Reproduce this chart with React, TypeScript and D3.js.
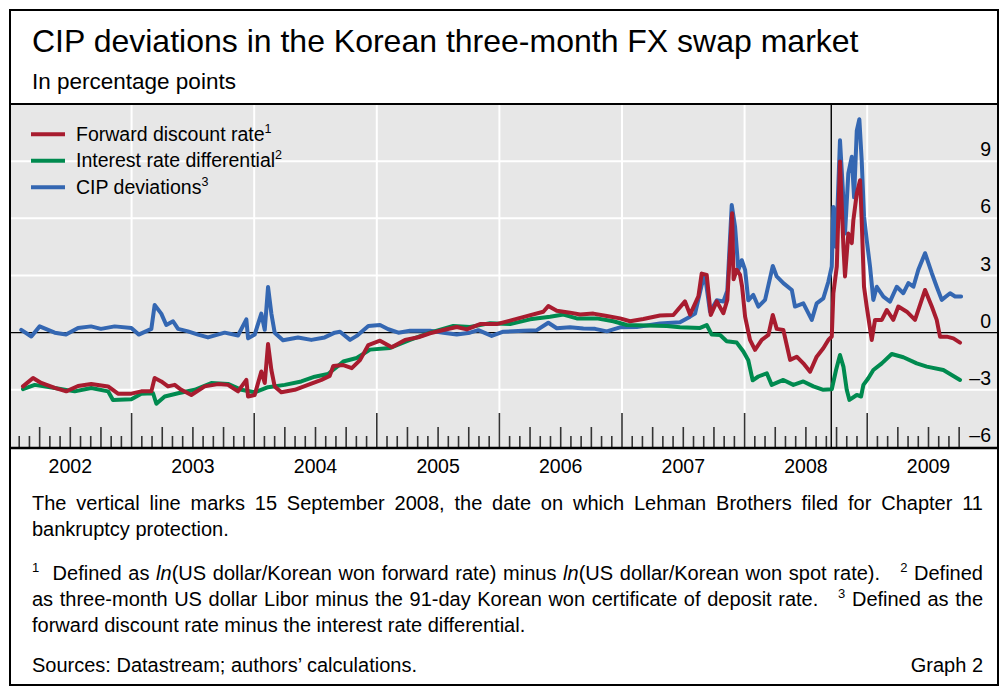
import React, { useLayoutEffect, useRef } from "react";
import * as d3 from "d3";

// ---- Data (decimal year, percentage points) ----
const forwardDiscount: [number, number][] = [
  [2002.114,-2.82],[2002.196,-2.38],[2002.263,-2.64],[2002.373,-2.9],[2002.467,-3.08],[2002.563,-2.8],[2002.671,-2.69],[2002.808,-2.82],[2002.889,-3.2],[2002.998,-3.2],
  [2003.079,-3.08],[2003.161,-3.08],[2003.188,-2.38],[2003.242,-2.56],[2003.297,-2.82],[2003.352,-2.74],[2003.405,-3.0],[2003.487,-3.27],[2003.596,-2.82],[2003.705,-2.7],
  [2003.786,-2.74],[2003.868,-3.08],[2003.936,-2.48],[2003.950,-3.35],[2004.004,-3.27],[2004.058,-2.04],[2004.086,-2.64],[2004.113,-0.59],[2004.140,-1.96],[2004.167,-2.82],
  [2004.221,-3.13],[2004.331,-3.0],[2004.439,-2.74],[2004.548,-2.48],[2004.616,-2.27],[2004.645,-1.75],[2004.727,-1.7],[2004.796,-1.86],[2004.863,-1.44],[2004.931,-0.65],
  [2005.026,-0.42],[2005.122,-0.77],[2005.230,-0.38],[2005.339,-0.24],[2005.434,-0.03],[2005.543,0.14],[2005.652,0.3],[2005.734,0.17],[2005.842,0.45],[2005.978,0.45],
  [2006.087,0.63],[2006.223,0.87],[2006.358,1.1],[2006.399,1.4],[2006.468,1.15],[2006.576,1.05],[2006.658,0.95],[2006.766,1.0],[2006.876,0.87],[2006.984,0.75],
  [2007.066,0.6],[2007.174,0.72],[2007.310,0.9],[2007.419,0.93],[2007.514,1.64],[2007.555,0.95],[2007.623,1.9],[2007.650,3.1],[2007.691,3.03],[2007.724,0.93],
  [2007.773,1.64],[2007.827,1.02],[2007.859,1.72],[2007.898,6.27],[2007.910,2.8],[2007.936,3.3],[2007.963,3.03],[2007.980,2.4],[2008.004,0.84],[2008.044,-0.38],[2008.085,-0.9],
  [2008.140,-0.38],[2008.194,-0.12],[2008.230,0.93],[2008.262,0.2],[2008.316,0.14],[2008.371,-1.43],[2008.425,-1.26],[2008.479,-1.61],[2008.534,-2.05],[2008.588,-1.26],
  [2008.642,-0.82],[2008.683,-0.38],[2008.711,-0.2],[2008.724,2.07],[2008.752,3.47],[2008.778,8.98],[2008.806,4.5],[2008.819,2.95],[2008.846,5.2],[2008.874,4.7],
  [2008.887,5.9],[2008.915,7.3],[2008.942,8.0],[2008.955,5.9],[2008.974,2.41],[2008.996,1.37],[2009.037,-0.38],[2009.064,0.67],[2009.119,0.67],[2009.160,1.19],
  [2009.213,0.67],[2009.254,1.37],[2009.323,1.1],[2009.390,0.67],[2009.472,2.24],[2009.527,1.37],[2009.567,0.67],[2009.594,-0.21],[2009.649,-0.21],[2009.703,-0.3],[2009.757,-0.52],
];

const interestDifferential: [number, number][] = [
  [2002.114,-2.96],[2002.210,-2.74],[2002.373,-2.9],[2002.536,-3.08],[2002.671,-2.9],[2002.808,-3.08],[2002.848,-3.53],[2002.998,-3.49],[2003.079,-3.2],[2003.175,-3.18],
  [2003.202,-3.73],[2003.270,-3.35],[2003.379,-3.18],[2003.515,-3.0],[2003.650,-2.64],[2003.786,-2.69],[2003.895,-3.0],[2004.004,-3.13],[2004.113,-2.86],[2004.249,-2.74],
  [2004.384,-2.56],[2004.494,-2.31],[2004.602,-2.17],[2004.684,-1.75],[2004.727,-1.51],[2004.836,-1.33],[2004.945,-0.89],[2005.108,-0.8],[2005.271,-0.38],[2005.434,0.0],
  [2005.624,0.35],[2005.760,0.3],[2005.924,0.5],[2006.087,0.45],[2006.250,0.7],[2006.413,0.84],[2006.522,0.95],[2006.631,0.75],[2006.794,0.75],[2006.929,0.6],
  [2007.039,0.4],[2007.202,0.38],[2007.365,0.35],[2007.473,0.28],[2007.637,0.25],[2007.691,0.4],[2007.732,-0.1],[2007.800,-0.12],[2007.854,-0.45],[2007.936,-0.52],
  [2007.990,-0.99],[2008.030,-1.45],[2008.066,-2.5],[2008.112,-2.3],[2008.181,-2.13],[2008.221,-2.74],[2008.316,-2.48],[2008.398,-2.74],[2008.479,-2.56],[2008.561,-2.82],
  [2008.642,-3.0],[2008.711,-2.97],[2008.746,-1.96],[2008.778,-1.17],[2008.806,-1.78],[2008.833,-3.0],[2008.855,-3.53],[2008.915,-3.27],[2008.950,-3.35],[2008.969,-2.74],
  [2009.009,-2.39],[2009.050,-1.96],[2009.119,-1.61],[2009.200,-1.12],[2009.295,-1.29],[2009.404,-1.61],[2009.486,-1.78],[2009.621,-1.96],[2009.757,-2.48],
];

const cipDeviation: [number, number][] = [
  [2002.100,0.15],[2002.182,-0.2],[2002.250,0.33],[2002.373,0.0],[2002.465,-0.1],[2002.563,0.25],[2002.669,0.33],[2002.750,0.2],[2002.862,0.33],[2002.998,0.25],
  [2003.058,-0.1],[2003.161,0.2],[2003.188,1.45],[2003.242,1.0],[2003.283,0.4],[2003.338,0.6],[2003.379,0.2],[2003.460,0.07],[2003.542,-0.1],[2003.623,-0.25],
  [2003.759,0.0],[2003.868,-0.15],[2003.936,0.7],[2003.950,-0.3],[2004.004,-0.1],[2004.058,1.0],[2004.086,0.15],[2004.113,2.4],[2004.140,1.0],[2004.167,0.0],
  [2004.235,-0.4],[2004.357,-0.25],[2004.466,-0.38],[2004.575,-0.25],[2004.657,0.0],[2004.700,0.05],[2004.782,-0.38],[2004.836,-0.17],[2004.931,0.35],[2005.026,0.4],
  [2005.094,0.18],[2005.176,0.0],[2005.271,0.1],[2005.434,0.1],[2005.543,0.0],[2005.652,-0.1],[2005.760,0.0],[2005.828,0.13],[2005.937,-0.17],[2006.032,0.05],
  [2006.195,0.1],[2006.305,0.13],[2006.399,0.52],[2006.468,0.23],[2006.576,0.28],[2006.685,0.22],[2006.780,0.2],[2006.876,0.07],[2006.984,0.28],[2007.120,0.3],
  [2007.310,0.48],[2007.473,0.55],[2007.555,0.84],[2007.596,1.0],[2007.650,2.5],[2007.677,3.0],[2007.718,1.1],[2007.773,1.7],[2007.827,1.64],[2007.859,2.2],
  [2007.895,6.7],[2007.922,5.57],[2007.949,3.3],[2007.977,3.8],[2008.004,3.3],[2008.030,1.7],[2008.071,1.98],[2008.112,1.37],[2008.167,1.72],[2008.230,3.5],
  [2008.262,2.95],[2008.316,2.6],[2008.385,2.24],[2008.411,1.37],[2008.479,1.54],[2008.548,0.67],[2008.588,1.54],[2008.642,1.8],[2008.683,2.67],[2008.711,3.47],
  [2008.724,6.6],[2008.746,4.5],[2008.778,10.1],[2008.800,7.66],[2008.819,5.2],[2008.846,8.36],[2008.874,9.23],[2008.893,7.1],[2008.915,10.6],[2008.936,11.2],
  [2008.955,9.06],[2008.974,6.1],[2008.996,4.87],[2009.023,3.47],[2009.050,1.72],[2009.078,2.41],[2009.132,1.89],[2009.186,1.63],[2009.241,2.41],[2009.295,2.07],
  [2009.336,2.6],[2009.377,2.41],[2009.417,3.3],[2009.472,4.17],[2009.527,3.12],[2009.567,2.41],[2009.608,1.72],[2009.676,2.07],[2009.717,1.9],[2009.766,1.9],
];

const yTicks = [-6, -3, 0, 3, 6, 9];
const gridValues = [-3, 3, 6, 9];
const yearLabels = ["2002", "2003", "2004", "2005", "2006", "2007", "2008", "2009"];
const lehmanDate = 2008 + 258 / 365;

const seriesInfo = [
  { name: "Forward discount rate", note: "1", color: "#a81c2f", data: forwardDiscount },
  { name: "Interest rate differential", note: "2", color: "#008a4f", data: interestDifferential },
  { name: "CIP deviations", note: "3", color: "#3467b2", data: cipDeviation },
];

const FONT = "'Liberation Sans', Arial, Helvetica, sans-serif";

export default function App() {
  const x = d3.scaleLinear().domain([2002, 2010]).range([9, 989.8]);
  const y = d3.scaleLinear().domain([-6, 12]).range([447, 104]);
  const line = d3
    .line<[number, number]>()
    .x((d) => x(d[0]))
    .y((d) => y(d[1]));

  const monthTicks: { xpos: number; kind: number }[] = [];
  for (let i = 1; i <= 12 * 7 + 9; i++) {
    const kind = i % 12 === 0 ? 2 : i % 3 === 0 ? 1 : 0;
    monthTicks.push({ xpos: x(2002 + i / 12), kind });
  }
  const tickLen = [11, 20, 34];

  const justRefs = useRef<(SVGTextElement | null)[]>([]);
  useLayoutEffect(() => {
    justRefs.current.forEach((el) => {
      if (!el) return;
      el.removeAttribute("word-spacing");
      const w = el.getComputedTextLength();
      const spaces = ((el.textContent || "").match(/ /g) || []).length;
      if (spaces > 0) el.setAttribute("word-spacing", String((951 - w) / spaces));
    });
  }, []);

  const drawOrder = [seriesInfo[2], seriesInfo[1], seriesInfo[0]];

  return (
    <div style={{ position: "absolute", left: 0, top: 0 }}>
      <svg width={1002} height={687} style={{ display: "block", fontFamily: FONT }}>
        <rect x={0} y={0} width={1002} height={687} fill="#ffffff" />
        {/* plot background */}
        <rect x={10} y={104} width={988} height={344} fill="#e7e7e7" />
        {/* grid */}
        {gridValues.map((v) => (
          <line key={"h" + v} x1={10} x2={998} y1={y(v)} y2={y(v)} stroke="#ffffff" strokeWidth={2} />
        ))}
        {d3.range(2003, 2010).map((yr) => (
          <line key={"v" + yr} x1={x(yr)} x2={x(yr)} y1={104} y2={447} stroke="#ffffff" strokeWidth={2} />
        ))}
        {/* zero line */}
        <line x1={10} x2={998} y1={y(0)} y2={y(0)} stroke="#000" strokeWidth={1.4} />
        {/* Lehman line */}
        <line x1={x(lehmanDate)} x2={x(lehmanDate)} y1={104} y2={447} stroke="#000" strokeWidth={1.4} />
        {/* ticks */}
        {monthTicks.map((t, i) => (
          <line key={"t" + i} x1={t.xpos} x2={t.xpos} y1={447} y2={447 - tickLen[t.kind]} stroke="#333" strokeWidth={1.6} />
        ))}
        {/* series */}
        {drawOrder.map((s) => (
          <path key={s.name} d={line(s.data) || ""} fill="none" stroke={s.color} strokeWidth={4} strokeLinejoin="round" strokeLinecap="round" />
        ))}
        {/* y labels */}
        {yTicks.map((v) => (
          <text key={"yl" + v} x={991} y={y(v) - 5} textAnchor="end" fontSize={19.5} fill="#000">
            {v < 0 ? "\u2013" + Math.abs(v) : String(v)}
          </text>
        ))}
        {/* legend */}
        {seriesInfo.map((s, i) => {
          const ly = 134.3 + i * 26.5;
          return (
            <g key={"lg" + i}>
              <line x1={31} x2={65} y1={ly} y2={ly} stroke={s.color} strokeWidth={4} />
              <text x={76} y={ly + 6.5} fontSize={19.5} fill="#000">
                {s.name}
                <tspan fontSize={12.5} dy={-8}>{s.note}</tspan>
              </text>
            </g>
          );
        })}
        {/* axis line */}
        <line x1={10} x2={998} y1={448} y2={448} stroke="#000" strokeWidth={2.5} />
        {/* year labels */}
        {yearLabels.map((lab, i) => (
          <text key={lab} x={x(2002 + i + 0.5)} y={473} textAnchor="middle" fontSize={19.5} fill="#000">
            {lab}
          </text>
        ))}
        {/* header */}
        <text x={32} y={52} fontSize={32} fill="#000">
          CIP deviations in the Korean three-month FX swap market
        </text>
        <text x={32} y={89} fontSize={22.5} fill="#000">
          In percentage points
        </text>
        <line x1={10} x2={998} y1={104} y2={104} stroke="#000" strokeWidth={2} />
        {/* footnotes */}
        <text ref={(el) => { justRefs.current[0] = el; }} x={32} y={510} fontSize={20} fill="#000">
          The vertical line marks 15 September 2008, the date on which Lehman Brothers filed for Chapter 11
        </text>
        <text x={32} y={536} fontSize={20} fill="#000">
          bankruptcy protection.
        </text>
        <text ref={(el) => { justRefs.current[1] = el; }} x={32} y={580} fontSize={20} fill="#000" style={{ whiteSpace: "pre" }}>
          <tspan fontSize={13} dy={-8}>1</tspan>
          <tspan dy={8}>{"  Defined as "}</tspan>
          <tspan fontStyle="italic">ln</tspan>
          <tspan>{"(US dollar/Korean won forward rate) minus "}</tspan>
          <tspan fontStyle="italic">ln</tspan>
          <tspan>{"(US dollar/Korean won spot rate).   "}</tspan>
          <tspan fontSize={13} dy={-8}>2</tspan>
          <tspan dy={8}>{" Defined"}</tspan>
        </text>
        <text ref={(el) => { justRefs.current[2] = el; }} x={32} y={606} fontSize={20} fill="#000" style={{ whiteSpace: "pre" }}>
          <tspan>{"as three-month US dollar Libor minus the 91-day Korean won certificate of deposit rate.   "}</tspan>
          <tspan fontSize={13} dy={-8}>3</tspan>
          <tspan dy={8}>{" Defined as the"}</tspan>
        </text>
        <text x={32} y={632} fontSize={20} fill="#000">
          forward discount rate minus the interest rate differential.
        </text>
        <text x={32} y={672} fontSize={20} fill="#000">
          Sources: Datastream; authors’ calculations.
        </text>
        <text x={983} y={672} fontSize={20} fill="#000" textAnchor="end">
          Graph 2
        </text>
        {/* frame */}
        <rect x={10} y={10} width={988} height={675} fill="none" stroke="#000" strokeWidth={2} />
      </svg>
    </div>
  );
}
